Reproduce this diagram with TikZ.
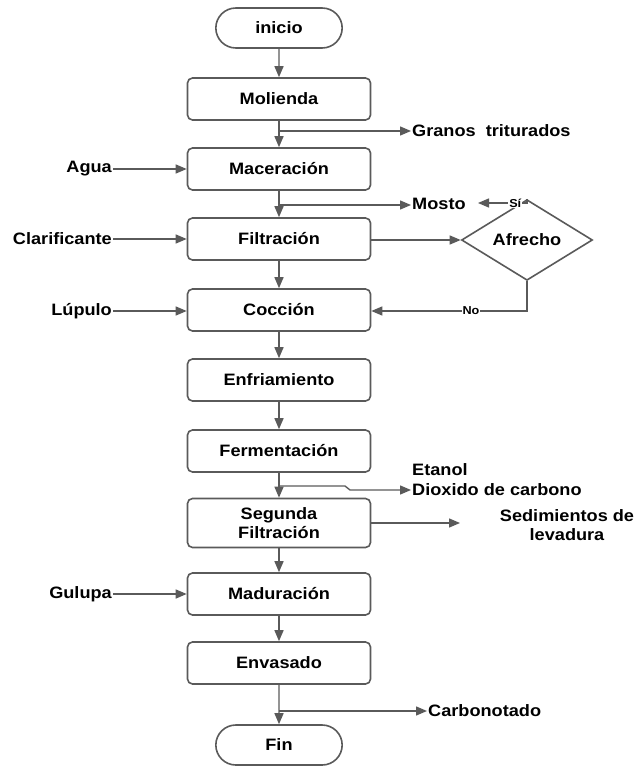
\documentclass[tikz,border=0pt]{standalone}
\usepackage{fontspec}
\setmainfont[FakeStretch=1.1]{Liberation Sans}
\usetikzlibrary{shapes.geometric,shapes.misc,arrows.meta}
\definecolor{linegray}{HTML}{5A5A5A}

\begin{document}
\begin{tikzpicture}[x=1pt, y=-1pt,
  every node/.style={font=\fontsize{16.5}{19}\selectfont\bfseries},
  proc/.style={draw=linegray, line width=1.6pt, rounded corners=5pt, fill=white,
    minimum width=183pt, minimum height=42pt, align=center},
  term/.style={draw=linegray, line width=1.6pt, rounded rectangle, fill=white,
    minimum width=133pt, minimum height=40pt},
  decision/.style={draw=linegray, line width=1.6pt, diamond, fill=white,
    minimum width=131pt, minimum height=68pt, inner sep=0pt},
  flow/.style={draw=linegray, line width=1.4pt, -{Triangle[length=11pt,width=9pt]}},
  tag/.style={fill=white, inner sep=1pt, font=\fontsize{11.5}{13}\selectfont\bfseries}]
  \useasboundingbox (0,0) rectangle (639,767);
  % Columna principal
  \node[term] (inicio) at (279,28) {inicio};
  \node[proc] (molienda) at (279,99) {Molienda};
  \node[proc] (maceracion) at (279,169) {Maceración};
  \node[proc] (filtracion) at (279,239) {Filtración};
  \node[proc] (coccion) at (279,310) {Cocción};
  \node[proc] (enfriamiento) at (279,380) {Enfriamiento};
  \node[proc] (fermentacion) at (279,451) {Fermentación};
  \node[proc, minimum height=49pt] (segunda) at (279,523) {Segunda\\Filtración};
  \node[proc] (maduracion) at (279,594) {Maduración};
  \node[proc] (envasado) at (279,663) {Envasado};
  \node[term] (fin) at (279,745) {Fin};
  % Decisión
  \node[decision] (afrecho) at (527,240) {Afrecho};
  % Entradas
  \node[anchor=east, inner sep=1pt] (agua) at (113,169) {Agua};
  \node[anchor=east, inner sep=1pt] (clarificante) at (113,239) {Clarificante};
  \node[anchor=east, inner sep=1pt] (lupulo) at (113,311) {Lúpulo};
  \node[anchor=east, inner sep=1pt] (gulupa) at (113,594) {Gulupa};
  % Salidas
  \node[anchor=west, inner sep=1pt] (granos) at (411,131) {Granos\ \ triturados};
  \node[anchor=west, inner sep=1pt] (mosto) at (411,204) {Mosto};
  \node[anchor=west, inner sep=1pt] (etanol) at (411,470) {Etanol};
  \node[anchor=west, inner sep=1pt] (dioxido) at (411,490) {Dioxido de carbono};
  \node[align=center] (sedimentos) at (567,525) {Sedimientos de\\levadura};
  \node[anchor=west, inner sep=1pt] (carbonatado) at (427,711) {Carbonotado};
  % Puntos de derivación
  \coordinate (d1) at (279,131);
  \coordinate (d2) at (279,205);
  \coordinate (d3) at (279,486);
  \coordinate (d4) at (279,711);
  \coordinate (si) at (478,203);
  \coordinate (sed) at (460,523);
  % Flujo principal
  \draw[flow] (inicio) -- (molienda);
  \draw[flow] (molienda) -- (maceracion);
  \draw[flow] (maceracion) -- (filtracion);
  \draw[flow] (filtracion) -- (coccion);
  \draw[flow] (coccion) -- (enfriamiento);
  \draw[flow] (enfriamiento) -- (fermentacion);
  \draw[flow] (fermentacion) -- (segunda);
  \draw[flow] (segunda) -- (maduracion);
  \draw[flow] (maduracion) -- (envasado);
  \draw[flow] (envasado) -- (fin);
  % Entradas laterales
  \draw[flow] (agua) -- (maceracion);
  \draw[flow] (clarificante) -- (filtracion);
  \draw[flow] (lupulo) -- (coccion.west |- lupulo);
  \draw[flow] (gulupa) -- (maduracion);
  % Salidas laterales
  \draw[flow] (d1) -- (granos);
  \draw[flow] (d2) -- (mosto.west |- d2);
  \draw[flow] (d3) -- (345,486) -- (350,490) -- (dioxido);
  \draw[flow] (segunda.east) -- (sed);
  \draw[flow] (d4) -- (carbonatado);
  % Decisión Afrecho
  \draw[flow] (filtracion.east |- afrecho) -- (afrecho);
  \draw[flow] (afrecho.north) |- (si) node[tag, pos=0.62] {Sí};
  \draw[flow] (afrecho.south) |- (coccion.east |- 0,311) node[tag, pos=0.68] {No};
\end{tikzpicture}
\end{document}
